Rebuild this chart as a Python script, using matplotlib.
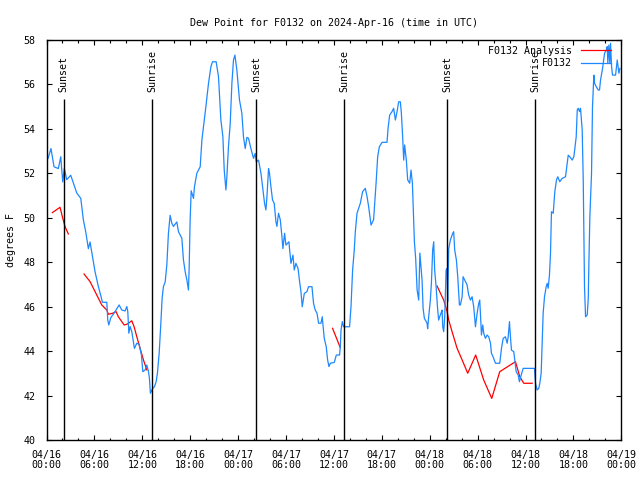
import numpy as np
import matplotlib
matplotlib.use("Agg")
import matplotlib.pyplot as plt
from matplotlib.ticker import FixedLocator, MultipleLocator

# hours since 2024-04-16 00:00 UTC
obs_hours = [0.19, 0.56, 0.94, 1.48, 1.78, 2.03, 2.23, 2.53, 3.03, 3.79, 4.29, 4.61, 4.91, 5.24, 5.45,
             5.87, 6.08, 6.49, 6.83, 7.00, 7.55, 7.67, 7.80, 8.05, 8.46, 9.09, 9.43, 9.84, 10.06, 10.18,
             10.31, 10.47, 10.68, 11.01, 11.31, 11.60, 11.89, 12.06, 12.35, 12.56, 12.76, 12.89, 13.01,
             13.27, 13.52, 13.73, 13.89, 14.11, 14.32, 14.48, 14.64, 14.86, 15.07, 15.27, 15.48, 15.70,
             15.90, 16.32, 16.53, 16.95, 17.15, 17.37, 17.58, 17.78, 17.87, 17.99, 18.12, 18.41, 18.53,
             18.83, 19.25, 19.46, 19.66, 19.96, 20.29, 20.59, 20.79, 21.25, 21.54, 21.84, 22.09, 22.26,
             22.47, 22.59, 22.79, 23.01, 23.22, 23.42, 23.60, 23.85, 24.17, 24.47, 24.67, 24.89, 25.10,
             25.30, 25.60, 25.93, 26.14, 26.27, 26.56, 26.86, 27.06, 27.31, 27.48, 27.61, 27.81, 27.93,
             28.11, 28.31, 28.52, 28.74, 28.86, 29.06, 29.28, 29.49, 29.61, 29.82, 29.99, 30.19, 30.37,
             30.44, 30.62, 30.87, 31.03, 31.24, 31.50, 31.70, 31.87, 32.03, 32.29, 32.62, 32.82, 33.25,
             33.45, 33.66, 33.88, 34.08, 34.38, 34.54, 34.63, 34.79, 35.04, 35.21, 35.38, 35.55, 36.05,
             36.30, 36.71, 36.80, 36.89, 37.05, 37.21, 37.96, 38.14, 38.34, 38.55, 38.68, 38.81, 38.89,
             39.31, 39.59, 39.93, 40.15, 40.35, 40.65, 40.97, 41.28, 41.48, 41.69, 42.03, 42.65, 42.78,
             42.98, 43.28, 43.48, 43.70, 43.91, 44.11, 44.32, 44.45, 44.61, 44.74, 44.86, 45.07, 45.24,
             45.49, 45.66, 45.83, 45.99, 46.08, 46.24, 46.42, 46.62, 46.77, 47.04, 47.17, 47.33, 47.67,
             47.74, 47.87, 48.08, 48.21, 48.37, 48.50, 48.62, 48.80, 49.00, 49.12, 49.25, 49.42, 49.55,
             49.63, 49.75, 49.88, 50.05, 50.18, 50.25, 50.38, 50.59, 50.88, 51.00, 51.13, 51.34, 51.51,
             51.72, 51.84, 52.06, 52.18, 52.38, 52.68, 52.88, 53.10, 53.31, 53.51, 53.73, 53.94, 54.14,
             54.26, 54.35, 54.48, 54.64, 54.77, 54.98, 55.19, 55.39, 55.61, 55.73, 55.94, 56.23, 56.77,
             56.99, 57.20, 57.49, 57.70, 57.83, 57.99, 58.11, 58.24, 58.53, 58.65, 58.83, 59.08, 59.24,
             59.46, 59.71, 61.12, 61.25, 61.46, 61.66, 61.79, 61.96, 62.09, 62.21, 62.38, 62.59, 62.72,
             62.84, 63.00, 63.13, 63.25, 63.47, 63.67, 63.88, 64.04, 64.29, 64.60, 65.01, 65.22, 65.35,
             65.55, 65.85, 66.05, 66.18, 66.35, 66.48, 66.60, 66.77, 66.89, 67.10, 67.23, 67.30, 67.39,
             67.52, 67.73, 67.86, 67.93, 68.06, 68.27, 68.39, 68.56, 68.65, 68.86, 69.11, 69.27, 69.40,
             69.65, 69.90, 70.11, 70.24, 70.31, 70.44, 70.56, 70.65, 70.78, 70.90, 71.28, 71.49, 71.70,
             71.82]
obs_dewpt = [52.66, 53.10, 52.28, 52.20, 52.73, 51.60, 52.20, 51.70, 51.90, 51.10, 50.86, 49.90, 49.36, 48.60, 48.90,
             48.00, 47.56, 46.90, 46.44, 46.19, 46.19, 45.39, 45.17, 45.50, 45.70, 46.07, 45.84, 45.80, 46.00, 45.77,
             44.80, 45.10, 44.87, 44.12, 44.35, 44.30, 43.82, 43.07, 43.15, 43.37, 43.10, 42.77, 42.10,
             42.30, 42.40, 42.62, 43.00, 43.90, 45.25, 46.37, 46.89, 47.10, 47.87, 49.29, 50.10, 49.74,
             49.60, 49.80, 49.36, 49.07, 48.10, 47.56, 47.19, 46.74, 47.80, 49.90, 51.20, 50.86, 51.38,
             51.99, 52.28, 53.48, 54.08, 54.98, 56.03, 56.78, 57.00, 57.00, 56.33, 54.38, 53.63, 52.13,
             51.24, 51.83, 53.18, 54.23, 56.03, 57.08, 57.30, 56.60, 55.28, 54.68, 53.63, 53.10, 53.60,
             53.56, 53.10, 52.66, 52.88, 52.50, 52.58, 51.99, 51.38, 50.64, 50.34, 50.94, 52.20, 51.99,
             51.38, 50.79, 50.64, 49.80, 49.60, 50.19, 49.90, 49.14, 48.60, 49.29, 48.76, 48.84, 48.91,
             48.60, 47.94, 48.31, 47.64, 47.94, 47.72, 47.12, 46.67, 45.99, 46.59, 46.67, 46.89, 46.89,
             46.14, 45.84, 45.70, 45.25, 45.25, 45.54, 45.17, 44.57, 44.19, 43.60, 43.30, 43.45, 43.49,
             43.82, 43.82, 44.19, 44.94, 45.32, 45.09, 45.09, 45.99, 47.64, 48.54, 49.36, 49.90, 50.19,
             50.64, 51.16, 51.31, 50.94, 50.49, 49.66, 49.90, 51.54, 52.73, 53.18, 53.38, 53.38, 54.00,
             54.60, 54.76, 54.91, 54.38, 54.76, 55.20, 55.20, 54.68, 53.63, 52.58, 53.26, 52.58, 51.69,
             51.54, 52.13, 51.54, 49.90, 48.91, 48.17, 46.74, 46.29, 48.40, 47.19, 45.92, 45.47, 45.25,
             45.00, 45.54, 46.29, 47.04, 48.54, 48.91, 47.64, 46.89, 45.84, 45.39, 45.54, 45.70, 45.84,
             45.09, 44.87, 45.54, 47.64, 47.72, 46.22, 48.60, 48.99, 49.29, 49.36, 48.54, 48.09, 47.34,
             46.07, 46.07, 46.44, 47.34, 47.19, 46.97, 46.52, 46.29, 46.44, 45.99, 45.09, 45.70, 46.14,
             46.29, 45.70, 44.72, 45.17, 44.79, 44.57, 44.72, 44.64, 44.35, 43.90, 43.74, 43.45, 43.45,
             44.12, 44.57, 44.64, 44.35, 44.64, 45.32, 44.64, 44.04, 43.97, 43.60, 43.07, 42.92, 42.62,
             42.92, 43.22, 43.22, 42.55, 42.25, 42.32, 42.55, 43.00, 44.42, 45.70, 46.44, 46.89, 47.04,
             46.82, 47.42, 48.39, 50.26, 50.19, 51.16, 51.69, 51.83, 51.61, 51.76, 51.83, 52.43, 52.80,
             52.73, 52.58, 52.73, 53.10, 53.63, 54.83, 54.91, 54.76, 54.91, 53.93, 51.69, 49.44, 46.89,
             45.54, 45.62, 46.37, 47.79, 50.04, 51.99, 54.98, 56.40, 56.03, 55.88, 55.73, 55.73, 56.18,
             56.70, 57.38, 57.53, 57.68, 56.93, 57.75, 56.93, 57.83, 56.78, 56.40, 56.40, 57.08, 56.48,
             56.70]

# analysis series, nan = gap
ana_hours = [0.73, 1.69, 1.98, 2.32, 2.73, np.nan,
             4.70, 5.45, 6.29, 6.92, 7.55, 7.75, 8.30, 8.71, 9.00, 9.72, 10.13, 10.68, 10.97, 11.31,
             11.72, 12.14, 12.56, np.nan,
             35.83, 36.80, np.nan,
             48.92, 49.75, 50.18, 50.38, 50.80, 51.43, 52.06, 52.76, 53.76, 54.76, 55.77, 56.77, 57.77,
             58.74, 59.28, 59.78, 60.83]
ana_dewpt = [50.22, 50.46, 50.04, 49.59, 49.26, np.nan,
             47.46, 47.12, 46.52, 46.07, 45.84, 45.65, 45.70, 45.77, 45.54, 45.17, 45.21, 45.36, 45.09, 44.64,
             44.12, 43.60, 43.15, np.nan,
             45.02, 44.15, np.nan,
             46.92, 46.29, 45.77, 45.39, 44.87, 44.12, 43.60, 43.00, 43.82, 42.70, 41.87, 43.07, 43.30,
             43.52, 42.85, 42.55, 42.55]

sun_hours = [2.17, 13.21, 26.25, 37.29, 50.21, 61.25]
sun_labels = ["Sunset", "Sunrise", "Sunset", "Sunrise", "Sunset", "Sunrise"]

tick_hours = [0, 6, 12, 18, 24, 30, 36, 42, 48, 54, 60, 66, 72]
tick_labels = ["04/16\n00:00", "04/16\n06:00", "04/16\n12:00", "04/16\n18:00",
               "04/17\n00:00", "04/17\n06:00", "04/17\n12:00", "04/17\n18:00",
               "04/18\n00:00", "04/18\n06:00", "04/18\n12:00", "04/18\n18:00",
               "04/19\n00:00"]

plt.rcParams['font.family'] = ['DejaVu Sans Mono']
fs = 7.2

fig = plt.figure(figsize=(6.4, 4.8), dpi=100)
ax = fig.add_axes([0.0727, 0.0833, 0.8981, 0.8344])

ax.plot(ana_hours, ana_dewpt, color='#ff0000', lw=0.9, label='F0132 Analysis')
ax.plot(obs_hours, obs_dewpt, color='#1e88ff', lw=0.9, label='F0132')

# sunrise / sunset markers
ax.vlines(sun_hours, 40, 55.33, color='black', lw=1.0)
for h, lab in zip(sun_hours, sun_labels):
    ax.text(h, 55.65, lab, rotation=90, ha='center', va='bottom', fontsize=fs)

ax.set_xlim(0, 72)
ax.set_ylim(40, 58)
ax.xaxis.set_major_locator(FixedLocator(tick_hours))
ax.set_xticklabels(tick_labels, linespacing=1.0)
ax.xaxis.set_minor_locator(MultipleLocator(2))
ax.yaxis.set_major_locator(MultipleLocator(2))

ax.tick_params(which='both', direction='in', top=True, right=True, labelsize=fs, width=0.8)
ax.tick_params(which='major', length=3.6)
ax.tick_params(axis='x', which='major', pad=7)
ax.tick_params(axis='y', which='major', pad=8)
ax.tick_params(which='minor', length=1.8)
for s in ax.spines.values():
    s.set_linewidth(1.0)

ax.set_title("Dew Point for F0132 on 2024-Apr-16 (time in UTC)", fontsize=fs, pad=10)
ax.set_ylabel("degrees F", fontsize=fs, labelpad=5)

ax.legend(loc='upper right', bbox_to_anchor=(0.982, 0.985), frameon=False, fontsize=fs,
          markerfirst=False, handlelength=3.0, handletextpad=0.9, labelspacing=0.25,
          borderpad=0, borderaxespad=0)

plt.savefig("out.png", dpi=100)
